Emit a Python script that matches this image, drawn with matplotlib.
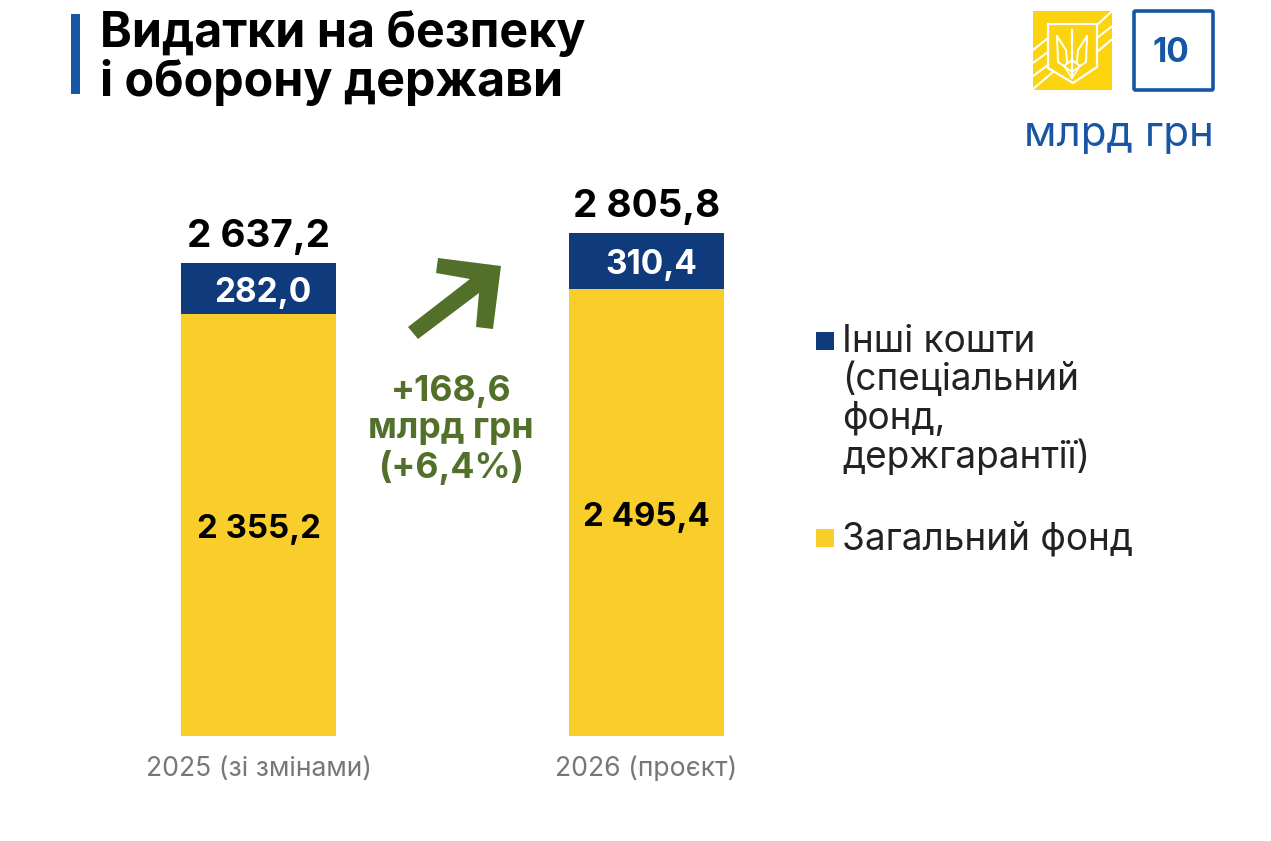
import matplotlib
matplotlib.use('Agg')
import matplotlib.pyplot as plt
from matplotlib.patches import Polygon, Rectangle, FancyBboxPatch

plt.rcParams['font.family'] = ['Inter', 'DejaVu Sans']

years = ['2025 (зі змінами)', '2026 (проєкт)']
general_fund = [2355.2, 2495.4]
other_funds = [282.0, 310.4]
totals = [2637.2, 2805.8]
general_labels = ['2 355,2', '2 495,4']
other_labels = ['282,0', '310,4']
total_labels = ['2 637,2', '2 805,8']
legend_labels = ['Інші кошти\n(спеціальний\nфонд,\nдержгарантії)', 'Загальний фонд']
title = 'Видатки на безпеку\nі оборону держави'
change_label = '+168,6\nмлрд грн\n(+6,4%)'

YELLOW = '#F9CE2A'
NAVY = '#0F3A7C'
BLUE = '#1755A5'
GREEN = '#52702A'
W, H = 1271, 841

fig = plt.figure(figsize=(W / 100, H / 100), dpi=100, facecolor='white')

# bars axes: x=0 sits at 258.5 px, x=1 at 646.5 px, zero line at y=736 px
ax = fig.add_axes([0, (H - 736) / H, 1, 736 / H])
ax.set_xlim(-258.5 / 388, (W - 258.5) / 388)
ax.set_ylim(0, 736 / 0.1793)
ax.axis('off')
pos = [0, 1]
ax.bar(pos, general_fund, width=0.4, color=YELLOW)
ax.bar(pos, other_funds, width=0.4, bottom=general_fund, color=NAVY)
for i in pos:
    ax.text(i, general_fund[i] / 2 - 28, general_labels[i], ha='center', va='center',
            fontsize=23.8, fontweight='bold', color='black')
    ax.text(i + 0.012, general_fund[i] + other_funds[i] / 2 - 25, other_labels[i], ha='center', va='center',
            fontsize=24, fontweight='bold', color='white')
    ax.text(i, totals[i] + 147, total_labels[i], ha='center', va='center',
            fontsize=27.8, fontweight='bold', color='black')

# everything else in pixel coordinates
ov = fig.add_axes([0, 0, 1, 1], facecolor='none')
ov.set_xlim(0, W)
ov.set_ylim(H, 0)
ov.axis('off')

ov.text(146, 769, years[0], ha='left', va='center', fontsize=19.1, color='#777777')
ov.text(555, 769, years[1], ha='left', va='center', fontsize=19.1, color='#777777')

ov.add_patch(Rectangle((71, 14), 9, 80, color=BLUE, lw=0))
ov.text(100, 58, title, ha='left', va='center', fontsize=34.8, fontweight='bold',
        color='black', linespacing=1.07)

# arrow
ov.add_patch(Polygon([(408, 327), (418, 339), (479, 293), (476, 327), (493, 329),
                      (501, 266), (438, 258), (436, 273), (470, 279)], color=GREEN, lw=0))
ov.text(451, 430, change_label, ha='center', va='center', fontsize=25.6, fontweight='bold',
        color=GREEN, linespacing=1.15)

# legend
ov.add_patch(Rectangle((816, 332), 18, 18, color=NAVY, lw=0))
ov.text(842, 400, legend_labels[0], ha='left', va='center', fontsize=26.6, color='#222222',
        linespacing=1.1)
ov.add_patch(Rectangle((816, 529), 18, 18, color=YELLOW, lw=0))
ov.text(842, 539, legend_labels[1], ha='left', va='center', fontsize=26.6, color='#222222')

# page number box
ov.add_patch(FancyBboxPatch((1134, 11), 79, 79, boxstyle='round,pad=0,rounding_size=1.5',
                            fc='white', ec=BLUE, lw=2.6))
ov.text(1171, 53, '10', ha='center', va='center', fontsize=24, fontweight='bold', color=BLUE)
ov.text(1214, 135, 'млрд грн', ha='right', va='center', fontsize=30.3, color=BLUE)

# logo: yellow square with white stripes, shield and trident
ov.add_patch(Rectangle((1033, 11), 79, 79, color='#FBD30E', lw=0))
for x0, y0, x1, y1 in [(1033, 50, 1048, 38), (1033, 63, 1048, 52), (1033, 76, 1048, 65),
                       (1033, 89, 1053, 72), (1097, 25, 1111, 12), (1097, 38, 1111, 27),
                       (1097, 52, 1111, 40)]:
    ov.plot([x0, x1], [y0, y1], color='white', lw=1.5)
ov.add_patch(Polygon([(1048, 24), (1097, 24), (1097, 67), (1073, 83), (1048, 68)],
                     closed=True, fc='none', ec='white', lw=1.6))
ov.plot([1072, 1072], [30, 78], color='white', lw=1.6)
ov.plot([1057, 1058, 1064, 1072, 1080, 1086, 1087], [36, 62, 66, 60, 66, 62, 36], color='white', lw=1.4)
ov.plot([1057, 1066, 1067], [36, 50, 62], color='white', lw=1.4)
ov.plot([1087, 1078, 1077], [36, 50, 62], color='white', lw=1.4)
ov.plot([1064, 1072, 1080, 1072, 1064], [66, 78, 66, 72, 66], color='white', lw=1.2)

fig.savefig('out.png', dpi=100)
